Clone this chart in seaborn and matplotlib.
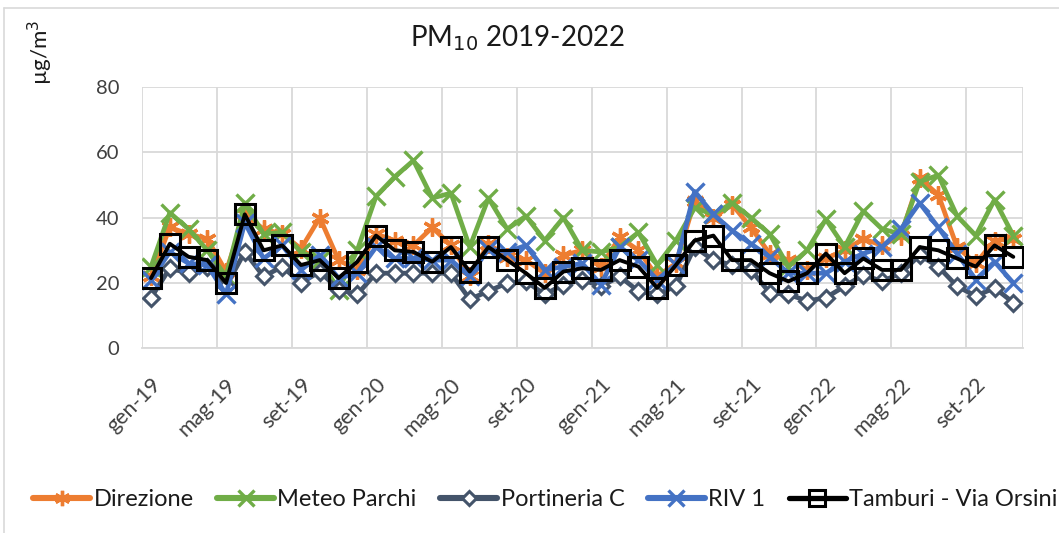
import numpy as np
import pandas as pd
import matplotlib
matplotlib.use("Agg")
import matplotlib.pyplot as plt
import matplotlib.transforms as mtransforms
import seaborn as sns
from matplotlib.lines import Line2D

# ---- data ----
month_names = ["gen", "feb", "mar", "apr", "mag", "giu", "lug", "ago", "set", "ott", "nov", "dic"]
years = ["19", "20", "21", "22"]
months = [f"{m}-{y}" for y in years for m in month_names][:47]   # gen-19 .. nov-22

direzione = [22, 37, 35, 33.5, 23.5, 41, 36.5, 35, 30.5, 40, 27, 24, 35, 33, 31.5, 37, 31.5, 22, 32, 28,
             27, 23, 28.5, 30, 25, 34, 30, 22, 26, 45, 40, 44, 37, 29, 27, 24, 27.5, 30, 33.5, 31.5,
             34.5, 52, 47, 31, 26, 33, 33.5]
meteo_parchi = [25, 41.5, 36.5, 30, 22, 44.5, 35, 35.5, 29.5, 27, 18, 30, 46.5, 52.5, 57.5, 46, 47.5, 31, 46, 36.5,
                40.5, 33, 40, 30, 29.5, 31, 35.5, 25.5, 33, 43, 41, 44.5, 40, 35, 25, 30, 39.5, 31, 42, 36.5,
                35, 51, 53, 40.5, 34.5, 45.5, 34.5]
portineria_c = [15.5, 24.5, 23, 25, 19, 29.5, 22, 25, 20, 23.5, 18, 16.5, 23, 23, 23, 23, 23, 15, 17.5, 20,
                20.5, 16.5, 19.5, 21, 19, 22, 17.5, 16.5, 19, 31, 27, 25.5, 24, 17, 16.5, 14.5, 15.5, 19, 22.5, 20.5,
                23, 28.5, 25, 19, 16, 18.5, 14]
riv_1 = [21, 29.5, 26, 25.5, 16.5, 38.5, 27.5, 31.5, 24, 28.5, 21.5, 23, 31, 27.5, 27.5, 27, 27, 22, 30.5, 29.5,
         31.5, 24, 25, 26, 19.5, 31, 27, 21, 25.5, 48, 41, 36, 32, 28, 23, 23, 23, 26.5, 29, 31,
         36.5, 44.5, 37, 29, 21, 26.5, 20]
tamburi = [21.5, 32, 28, 27, 20, 41, 30, 31.5, 25.5, 27, 21.5, 26.5, 34.5, 30, 29.5, 26.5, 31, 23.5, 31, 27,
           23, 18.5, 23.5, 24.5, 24, 27, 25, 18.5, 25.5, 33, 34.5, 27, 27, 23, 20.5, 23, 29, 23, 27.5, 24,
           24, 31, 30, 27.5, 25, 31.5, 28]

series_names = ["Direzione", "Meteo Parchi", "Portineria C", "RIV 1", "Tamburi - Via Orsini"]
series_values = [direzione, meteo_parchi, portineria_c, riv_1, tamburi]
y_ticks = [0, 20, 40, 60, 80]

# ---- styles ----
sns.set_theme(style="white")
plt.rcParams["font.family"] = ["Lato", "DejaVu Sans"]

styles = {
    "Direzione":    dict(color="#ED7D31", marker=(6, 2, 0), markersize=13, markeredgewidth=2.4,
                         markerfacecolor="#ED7D31", markeredgecolor="#ED7D31", linewidth=3.4),
    "Meteo Parchi": dict(color="#70AD47", marker="x", markersize=13, markeredgewidth=2.4,
                         markerfacecolor="#70AD47", markeredgecolor="#70AD47", linewidth=3.4),
    "Portineria C": dict(color="#44546A", marker="D", markersize=8.5, markeredgewidth=2.2,
                         markerfacecolor="white", markeredgecolor="#44546A", linewidth=3.4),
    "RIV 1":        dict(color="#4472C4", marker="x", markersize=13, markeredgewidth=2.4,
                         markerfacecolor="#4472C4", markeredgecolor="#4472C4", linewidth=3.4),
    "Tamburi - Via Orsini": dict(color="black", marker="s", markersize=14, markeredgewidth=2.2,
                                 markerfacecolor="none", markeredgecolor="black", linewidth=2.8),
}

fig = plt.figure(figsize=(10.59, 5.33), dpi=100)
ax = fig.add_axes([0.1338, 0.3465, 0.8319, 0.4903])

x = np.arange(len(months))
for name, vals in zip(series_names, series_values):
    df = pd.DataFrame({"x": x, "y": vals})
    sns.lineplot(data=df, x="x", y="y", ax=ax, label=name, legend=False, **styles[name])

ax.set_xlim(-0.5, len(months) - 0.5)
ax.set_ylim(0, 80)

# y axis
ax.set_yticks(y_ticks)
ax.set_yticklabels([str(v) for v in y_ticks], fontsize=14.5, color="#404040")
ax.tick_params(axis="y", length=0, pad=16)
ax.yaxis.grid(True, color="#D9D9D9", linewidth=1.3)

# x axis: labels at every 4th category, gridlines/ticks at category boundaries
label_pos = list(range(0, len(months), 4))
ax.set_xticks(label_pos)
ax.set_xticklabels([months[i] for i in label_pos], fontsize=15.5, color="#404040",
                   rotation=45, ha="right", va="center", rotation_mode="anchor")
ax.tick_params(axis="x", which="major", length=0, pad=24)
offset = mtransforms.ScaledTranslation(7 / 100, 0, fig.dpi_scale_trans)
for lab in ax.get_xticklabels():
    lab.set_transform(lab.get_transform() + offset)
bounds = [i - 0.5 for i in range(0, len(months) + 1, 4)] + [len(months) - 0.5]
ax.set_xticks(bounds, minor=True)
ax.tick_params(axis="x", which="minor", length=6, color="#D9D9D9", width=1.3, direction="out")
ax.xaxis.grid(True, which="minor", color="#D9D9D9", linewidth=1.3)
ax.xaxis.grid(False, which="major")
ax.set_xlabel("")
ax.set_ylabel("")
for s in ["top", "left", "right"]:
    ax.spines[s].set_visible(False)
ax.spines["bottom"].set_color("#D9D9D9")
ax.spines["bottom"].set_linewidth(1.3)

# title and unit
fig.text(517 / 1059, 1 - 38 / 533, r"PM$_{10}$ 2019-2022", ha="center", va="center",
         fontsize=20, color="#1a1a1a")
fig.text(40 / 1059, 1 - 52 / 533, "µg/m$^3$", rotation=90, ha="center", va="center",
         fontsize=16, color="#1a1a1a")

# legend
handles = []
for name in series_names:
    st = styles[name]
    handles.append(Line2D([0], [0], color=st["color"], linewidth=st["linewidth"] + 1, marker=st["marker"],
                          markersize=st["markersize"] * 0.85, markeredgewidth=st["markeredgewidth"],
                          markerfacecolor=st["markerfacecolor"], markeredgecolor=st["markeredgecolor"]))
fig.legend(handles, series_names, loc="center", bbox_to_anchor=(0.515, 1 - 500 / 533), ncol=5,
           frameon=False, fontsize=17, handlelength=2.4, handletextpad=0.15, columnspacing=1.0,
           labelcolor="#1a1a1a")

# chart-area border (left & top)
fig.add_artist(Line2D([4 / 1059, 4 / 1059], [0, 1 - 8 / 533], transform=fig.transFigure,
                      color="#D9D9D9", linewidth=1.2))
fig.add_artist(Line2D([4 / 1059, 1], [1 - 8 / 533, 1 - 8 / 533], transform=fig.transFigure,
                      color="#D9D9D9", linewidth=1.2))

fig.savefig("out.png", dpi=100)
